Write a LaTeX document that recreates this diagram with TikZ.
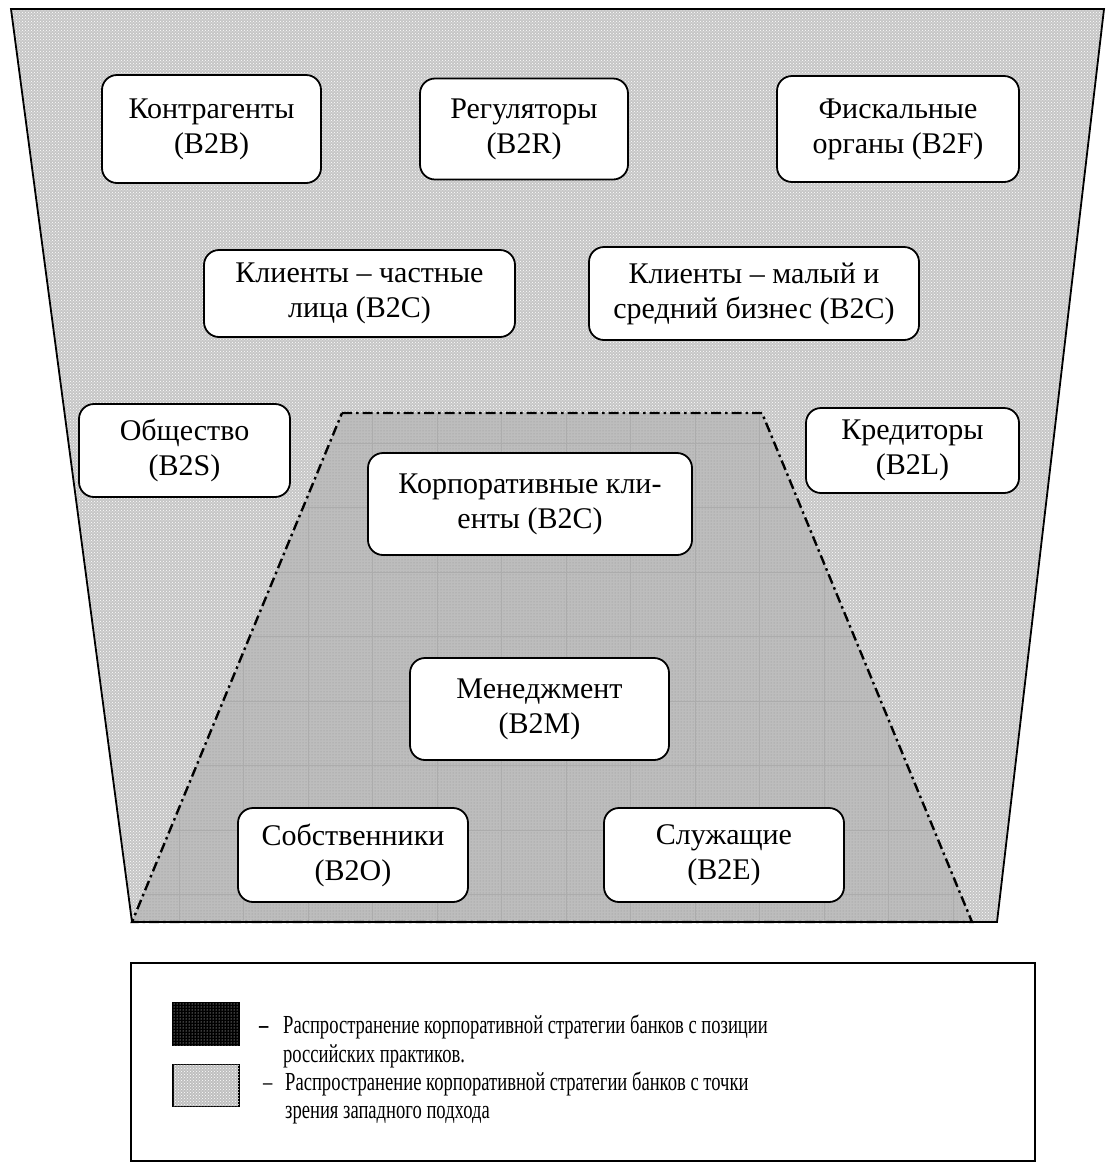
\documentclass[tikz,border=0pt]{standalone}
\usepackage{fontspec}
\setmainfont{Liberation Serif}
\newfontfamily\legendfont{Liberation Serif}[FakeStretch=0.715]
\usetikzlibrary{patterns}

\begin{document}
\begin{tikzpicture}[x=1pt,y=-1pt,node distance=300pt,
	stake node/.style = {rectangle,rounded corners=15pt,draw,line width=1.8pt,fill=white,
		align=center,inner sep=0pt,font=\fontsize{30}{35}\selectfont},
	zone line/.style = {line width=2.4pt,dash pattern=on 10pt off 4pt on 2.5pt off 4pt},
	swatch/.style = {rectangle,draw,line width=1.2pt,minimum width=66pt,minimum height=42pt,inner sep=0pt},
	legend text/.style = {anchor=base west,inner sep=0pt,font=\legendfont\fontsize{26}{28}\selectfont}]
	\useasboundingbox (0,0) rectangle (1111,1163);

	% western approach
	\fill[gray!45] (11,9) -- (1104,9) -- (997,922) -- (132,922) -- cycle;
	\fill[pattern=crosshatch dots,pattern color=white] (11,9) -- (1104,9) -- (997,922) -- (132,922) -- cycle;
	% russian practice
	\fill[gray!52] (342,413) -- (762,413) -- (972,922) -- (132,922) -- cycle;
	\fill[pattern=dots,pattern color=gray!85] (342,413) -- (762,413) -- (972,922) -- (132,922) -- cycle;
	\begin{scope}
		\clip (342,413) -- (762,413) -- (972,922) -- (132,922) -- cycle;
		\foreach \gx in {0,...,12}
			\draw[gray!65,line width=0.6pt] (179+64.5*\gx,400) -- (179+64.5*\gx,930);
		\foreach \gy in {0,...,7}
			\draw[gray!65,line width=0.6pt] (120,443+64.5*\gy) -- (990,443+64.5*\gy);
	\end{scope}
	\draw[line width=1.8pt] (11,9) -- (1104,9) -- (997,922) -- (132,922) -- cycle;
	\draw[zone line] (342,413) -- (762,413) -- (972,922) -- (132,922) -- cycle;

	\node[stake node,minimum width=219pt,minimum height=108pt] (kontr) at (211.5,129) {Контрагенты\\(B2B)};
	\node[stake node,minimum width=208pt,minimum height=101pt] [right of = kontr,node distance=312.5pt] (regul) {Регуляторы\\(B2R)};
	\node[stake node,minimum width=242pt,minimum height=106pt] [right of = regul,node distance=374pt] (fisk) {Фискальные\\органы (B2F)};
	\node[stake node,minimum width=311pt,minimum height=87pt] (chast) at (359.5,293.5) {Клиенты – частные\\лица (B2C)};
	\node[stake node,minimum width=330pt,minimum height=93pt] [right of = chast,node distance=394.5pt] (msb) {Клиенты – малый и\\средний бизнес (B2C)};
	\node[stake node,minimum width=211pt,minimum height=93pt] (obsh) at (184.5,450.5) {Общество\\(B2S)};
	\node[stake node,minimum width=213pt,minimum height=85pt] [right of = obsh,node distance=728pt] (kred) {Кредиторы\\(B2L)};
	\node[stake node,minimum width=324pt,minimum height=102pt] (korp) at (530,504) {Корпоративные кли-\\енты (B2C)};
	\node[stake node,minimum width=259pt,minimum height=102pt] (menedzh) at (539.5,709) {Менеджмент\\(B2M)};
	\node[stake node,minimum width=230pt,minimum height=94pt] (sobstv) at (353,855) {Собственники\\(B2O)};
	\node[stake node,minimum width=240pt,minimum height=94pt] [right of = sobstv,node distance=371pt] (sluzh) {Служащие\\(B2E)};

	% legend
	\draw[line width=1.5pt] (131,963) rectangle (1035,1161);
	\node[swatch,fill=black,postaction={pattern=dots,pattern color=white}] (russ) at (206,1024) {};
	\node[swatch,fill=gray!50,postaction={pattern=crosshatch dots,pattern color=white}] (west) at (206,1085.5) {};
	\node[legend text] (russdash) at (259,1033) {\textbf{–}};
	\node[legend text] (russ1) at (283,1033) {Распространение корпоративной стратегии банков с позиции};
	\node[legend text] (russ2) at (283,1062) {российских практиков.};
	\node[legend text] (westdash) at (263,1090) {–};
	\node[legend text] (west1) at (285,1090) {Распространение корпоративной стратегии банков с точки};
	\node[legend text] (west2) at (285,1118) {зрения западного подхода};
\end{tikzpicture}
\end{document}
